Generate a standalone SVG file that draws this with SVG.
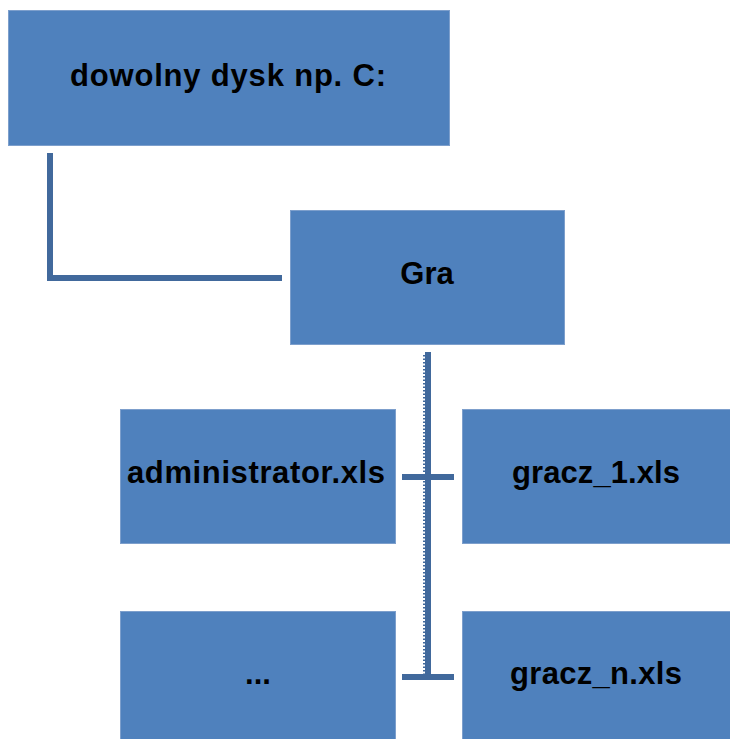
<svg xmlns="http://www.w3.org/2000/svg" width="730" height="739" viewBox="0 0 730 739">
<style>
.box{fill:#4f81bd;stroke:#7d9fcc;stroke-width:1}
.lbl{font-family:"Liberation Sans",Arial,sans-serif;font-weight:bold;font-size:31px;fill:#000;text-anchor:middle}
.con{stroke:#41699c;stroke-width:6;fill:none;stroke-linecap:butt}
</style>
<rect width="730" height="739" fill="#fff"/>
<g id="connectors">
<path class="con" d="M50 153 V278 H282"/>
<path class="con" d="M428 352 V677"/>
<path d="M424 355 V674" stroke="#41699c" stroke-width="2" stroke-dasharray="1.5 2" fill="none"/>
<path class="con" d="M402 477 H454"/>
<path class="con" d="M402 677 H454"/>
</g>
<g id="node-dysk">
<rect class="box" x="8.5" y="10.5" width="441" height="135"/>
<text class="lbl" x="228" y="86" textLength="316" lengthAdjust="spacing">dowolny dysk np. C:</text>
</g>
<g id="node-gra">
<rect class="box" x="290.5" y="210.5" width="274" height="134"/>
<text class="lbl" x="427" y="284">Gra</text>
</g>
<g id="node-admin">
<rect class="box" x="120.5" y="409.5" width="275" height="134"/>
<text class="lbl" x="256" y="483" textLength="258" lengthAdjust="spacing">administrator.xls</text>
</g>
<g id="node-gracz1">
<rect class="box" x="462.5" y="409.5" width="270" height="134"/>
<text class="lbl" x="596" y="483" textLength="168" lengthAdjust="spacing">gracz_1.xls</text>
</g>
<g id="node-dots">
<rect class="box" x="120.5" y="611.5" width="275" height="134"/>
<text class="lbl" x="258" y="684">...</text>
</g>
<g id="node-graczn">
<rect class="box" x="462.5" y="611.5" width="270" height="134"/>
<text class="lbl" x="596" y="684" textLength="172" lengthAdjust="spacing">gracz_n.xls</text>
</g>
</svg>
